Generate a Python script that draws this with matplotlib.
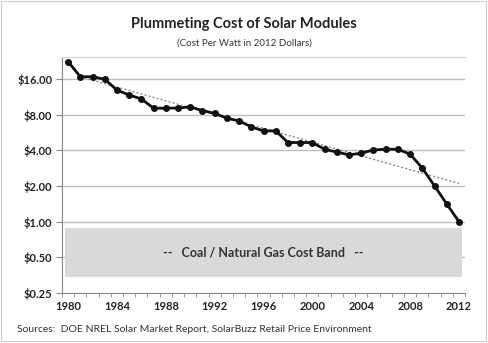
import numpy as np
import matplotlib
matplotlib.use("Agg")
import matplotlib.pyplot as plt
from matplotlib.patches import Rectangle

years = list(range(1980, 2013))
cost = [22.4, 16.7, 16.7, 15.9, 12.9, 11.7, 10.85, 9.06, 9.06, 9.1, 9.3,
        8.65, 8.2, 7.46, 7.08, 6.3, 5.83, 5.83, 4.65, 4.65, 4.65, 4.08,
        3.86, 3.66, 3.78, 4.03, 4.08, 4.08, 3.71, 2.83, 2.0, 1.41, 1.0]
trend_years = [1981, 2012]
trend_values = [16.7, 2.1]
ytick_vals = [0.25, 0.5, 1, 2, 4, 8, 16]
ytick_labels = ["$0.25", "$0.50", "$1.00", "$2.00", "$4.00", "$8.00", "$16.00"]
xtick_years = [1980, 1984, 1988, 1992, 1996, 2000, 2004, 2008, 2012]
band_low, band_high = 0.34, 0.89

plt.rcParams['font.family'] = ['Lato', 'DejaVu Sans']

fig = plt.figure(figsize=(4.88, 3.43), dpi=100)
fig.patch.set_facecolor("white")
ax = fig.add_axes([0.127, 0.1458, 0.826, 0.688])
ax.set_yscale("log", base=2)
ax.set_ylim(0.25, 24.5)
ax.set_xlim(1979.5, 2012.5)

# band
ax.add_patch(Rectangle((1979.75, band_low), 32.5, band_high - band_low,
                       facecolor="#d9d9d9", edgecolor="none", zorder=1))
ax.text(1996, np.sqrt(band_low * band_high), "--   Coal / Natural Gas Cost Band   --",
        ha="center", va="center", fontsize=9, fontweight="bold", color="#333333", zorder=2)

# gridlines
for v in ytick_vals[1:]:
    ax.axhline(v, color="#bdbdbd", lw=1, zorder=0)

# trendline (exponential, straight on log axis)
ax.plot(trend_years, trend_values, ls=(0, (1.5, 1.5)), color="#8a8a8a", lw=1, zorder=3)

ax.plot(years, cost, color="#111111", lw=2, marker="o", ms=4, zorder=4)

ax.set_yticks(ytick_vals)
ax.set_yticklabels(ytick_labels)
ax.yaxis.set_minor_locator(matplotlib.ticker.NullLocator())
ax.set_xticks(xtick_years)
ax.set_xticklabels([str(y) for y in xtick_years])
ax.set_xticks(np.arange(1979.5, 2013, 1), minor=True)
ax.tick_params(axis="x", which="major", length=0, pad=6, labelsize=8, colors="#222222")
ax.tick_params(axis="x", which="minor", length=3, color="#888888", direction="out")
ax.tick_params(axis="y", which="major", length=4, labelsize=8, pad=3, colors="#222222")
ax.tick_params(axis="y", which="major", color="#888888")
for lab in ax.get_xticklabels() + ax.get_yticklabels():
    lab.set_fontweight("bold")
ax.spines["top"].set_color("#d0d0d0")
ax.spines["right"].set_visible(False)
ax.spines["left"].set_color("#888888")
ax.spines["bottom"].set_color("#888888")

fig.text(0.5, 1 - 24 / 343, "Plummeting Cost of Solar Modules", ha="center", va="center",
         fontsize=10.5, fontweight="bold", color="#222222")
fig.text(0.5, 1 - 43 / 343, "(Cost Per Watt in 2012 Dollars)", ha="center", va="center",
         fontsize=7, color="#333333")
fig.text(17 / 488, 1 - 329 / 343,
         "Sources:  DOE NREL Solar Market Report, SolarBuzz Retail Price Environment",
         ha="left", va="center", fontsize=7.5, color="#333333")

fig.add_artist(Rectangle((0.002, 0.006), 0.993, 0.99, transform=fig.transFigure,
                         fill=False, edgecolor="#cccccc", lw=0.8))

fig.savefig("out.png", dpi=100)
